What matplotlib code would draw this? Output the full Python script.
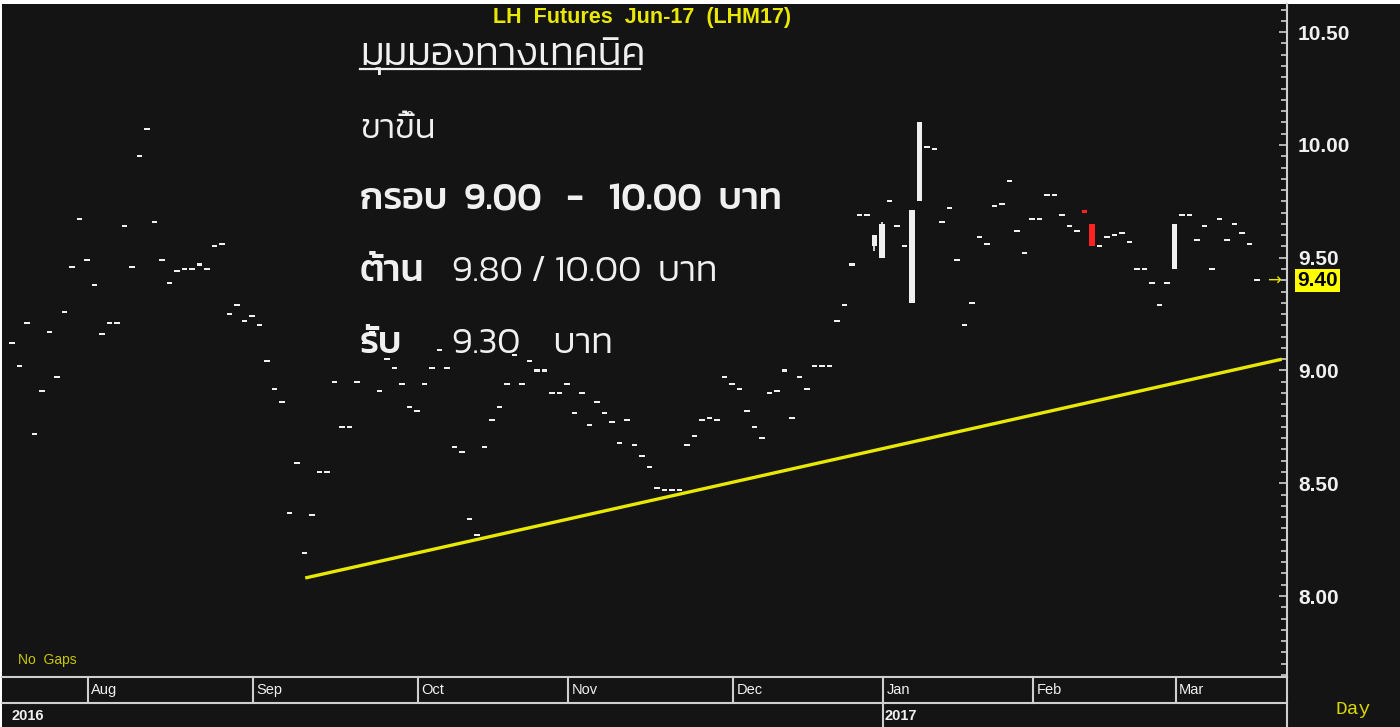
import matplotlib
matplotlib.use("Agg")
import matplotlib.pyplot as plt
import matplotlib.transforms as mtransforms
from matplotlib.lines import Line2D
from matplotlib.patches import Rectangle
from matplotlib.ticker import MultipleLocator, FormatStrFormatter
import numpy as np

# ── Data ──────────────────────────────────────────────────────────────────────
closes = [
    9.12, 9.02, 9.21, 8.72, 8.91, 9.17, 8.97, 9.26, 9.46, 9.67,
    9.49, 9.38, 9.16, 9.21, 9.21, 9.64, 9.46, 9.95, 10.07, 9.66,
    9.49, 9.39, 9.44, 9.45, 9.45, 9.47, 9.45, 9.55, 9.56, 9.25,
    9.29, 9.22, 9.24, 9.20, 9.04, 8.92, 8.86, 8.37, 8.59, 8.19,
    8.36, 8.55, 8.55, 8.95, 8.75, 8.75, 8.95, 9.12, 9.17, 8.91,
    9.05, 9.01, 8.94, 8.84, 8.82, 8.94, 9.01, 9.09, 9.01, 8.66,
    8.64, 8.34, 8.27, 8.66, 8.78, 8.84, 8.94, 9.07, 8.94, 9.04,
    9.00, 9.00, 8.90, 8.90, 8.94, 8.81, 8.90, 8.76, 8.86, 8.81,
    8.77, 8.68, 8.78, 8.67, 8.62, 8.57, 8.48, 8.47, 8.47, 8.47,
    8.67, 8.71, 8.78, 8.79, 8.78, 8.97, 8.94, 8.92, 8.82, 8.75,
    8.70, 8.90, 8.91, 9.00, 8.79, 8.97, 8.92, 9.02, 9.02, 9.02,
    9.22, 9.29, 9.47, 9.69, 9.69, 9.60, 9.65, 9.75, 9.64, 9.55,
    9.71, 10.10, 9.99, 9.98, 9.66, 9.72, 9.49, 9.20, 9.30, 9.59,
    9.56, 9.73, 9.74, 9.84, 9.62, 9.52, 9.67, 9.67, 9.78, 9.78,
    9.69, 9.64, 9.62, 9.70, 9.55, 9.55, 9.59, 9.60, 9.61, 9.57,
    9.45, 9.45, 9.39, 9.29, 9.39, 9.65, 9.69, 9.69, 9.58, 9.64,
    9.45, 9.67, 9.58, 9.65, 9.61, 9.56, 9.40,
]
# bars whose open differs from close
body_idx  = [115, 116, 120, 121, 143, 144, 155]
body_open = [9.55, 9.50, 9.30, 9.75, 9.71, 9.65, 9.45]
wick_idx  = [115, 116]
wick_low  = [9.53, 9.50]
wick_high = [9.60, 9.66]

month_names = ["Aug", "Sep", "Oct", "Nov", "Dec", "Jan", "Feb", "Mar"]
month_start = [10, 32, 54, 74, 96, 116, 136, 155]

trend_x = [39.1, 169.3]
trend_y = [8.08, 9.05]
last_price = 9.40

# ── Style ────────────────────────────────────────────────────────────────────
W, H = 1400, 727
BG = "#141414"
WHITE = "#f0f0f0"
RED = "#ff2222"
YELLOW = "#e8e800"
GRID = "#cfcfcf"
FONT_TH = ["Kanit", "Noto Sans Thai", "DejaVu Sans"]

def fx(px):
    return px / W

def fy(py):
    return 1 - py / H

fig = plt.figure(figsize=(W / 100, H / 100), dpi=100)
fig.patch.set_facecolor("white")
fig.add_artist(Rectangle((fx(2), 0), 1, fy(4), transform=fig.transFigure,
                         facecolor=BG, edgecolor="none", zorder=-5))

ax = fig.add_axes([fx(2), fy(677), fx(1287) - fx(2), fy(4) - fy(677)])
ax.set_facecolor(BG)
ax.set_xlim(-1.33, 170)
ax.set_ylim(7.641, 10.625)

# ── Candles ──────────────────────────────────────────────────────────────────
x = np.arange(len(closes))
c = np.array(closes, dtype=float)
o = c.copy()
o[body_idx] = body_open
lo = np.minimum(o, c)
hi = np.maximum(o, c)
min_h = 0.009
heights = np.maximum(hi - lo, min_h)
bottoms = np.where(hi - lo < min_h, (lo + hi) / 2 - min_h / 2, lo)
colors = np.where(c < o, RED, WHITE)
ax.vlines(wick_idx, wick_low, wick_high, color=WHITE, lw=1.2, zorder=2)
ax.bar(x, heights, bottom=bottoms, width=0.7, color=colors, linewidth=0, zorder=3)

# trend line
ax.plot(trend_x, trend_y, color=YELLOW, lw=2.4, solid_capstyle="butt", zorder=2)

# last price arrow + label
ax.text(len(closes) + 1.3, last_price, "→", color=YELLOW, fontsize=12,
        ha="center", va="center")
ax.annotate(f"{last_price:.2f}", xy=(1, last_price), xycoords=("axes fraction", "data"),
            xytext=(7.5, 0), textcoords="offset points", ha="left", va="center",
            fontsize=15, fontweight="bold", family="Liberation Sans", color="black",
            bbox=dict(boxstyle="square,pad=0.1", fc="#ffff00", ec="none"),
            annotation_clip=False)

# ── Axes styling ─────────────────────────────────────────────────────────────
for side in ["top", "left", "bottom"]:
    ax.spines[side].set_visible(False)
ax.spines["right"].set_color(GRID)
ax.spines["right"].set_linewidth(1.5)
ax.set_xticks([])
ax.yaxis.tick_right()
ax.yaxis.set_major_locator(MultipleLocator(0.5))
ax.yaxis.set_minor_locator(MultipleLocator(0.05))
ax.yaxis.set_major_formatter(FormatStrFormatter("%.2f"))
ax.tick_params(axis="y", which="major", direction="in", length=6, width=1.2,
               color=GRID, pad=8, labelsize=15, labelcolor=WHITE)
ax.tick_params(axis="y", which="minor", direction="in", length=4, width=1.2, color=GRID)
for lab in ax.get_yticklabels():
    lab.set_fontweight("bold")
    lab.set_family("Liberation Sans")

# ── Date rows below the plot ────────────────────────────────────────────────
trans_x = mtransforms.blended_transform_factory(ax.transData, fig.transFigure)
trans_ax = mtransforms.blended_transform_factory(ax.transAxes, fig.transFigure)
for yy in (677, 703):
    fig.add_artist(Line2D([0, 1], [fy(yy), fy(yy)], transform=trans_ax, color=GRID, lw=1.5))
fig.add_artist(Line2D([1, 1], [fy(677), 0], transform=trans_ax, color=GRID, lw=1.5))

for name, start in zip(month_names, month_start):
    sep = start + 0.2
    bottom = 0 if name == "Jan" else fy(703)
    fig.add_artist(Line2D([sep, sep], [fy(677), bottom], transform=trans_x, color=GRID, lw=1.5))
    ax.annotate(name, xy=(sep, fy(690)), xycoords=trans_x, xytext=(2, 0),
                textcoords="offset points", ha="left", va="center", fontsize=10.5,
                color=WHITE, family="Liberation Sans", annotation_clip=False)
    if name == "Jan":
        ax.annotate("2017", xy=(sep, fy(716)), xycoords=trans_x, xytext=(1, 0),
                    textcoords="offset points", ha="left", va="center", fontsize=10.5,
                    fontweight="bold", color=WHITE, family="Liberation Sans",
                    annotation_clip=False)
fig.text(fx(12), fy(716), "2016", ha="left", va="center", fontsize=10.5,
         fontweight="bold", color=WHITE, family="Liberation Sans")

fig.text(fx(18), fy(660), "No  Gaps", ha="left", va="center", fontsize=10,
         color="#c8c800", family="Liberation Sans")
fig.text(fx(1353), fy(709), "Day", ha="center", va="center", fontsize=14,
         color="#d8d800", family="Liberation Mono")

# ── Title and commentary text ──────────────────────────────────────────────
fig.text(fx(642), fy(18), "LH  Futures  Jun-17  (LHM17)", ha="center", va="center",
         fontsize=15.5, fontweight="bold", color=YELLOW, family="Liberation Sans")

fig.text(fx(360), fy(65), "มุมมองทางเทคนิค", ha="left", va="baseline", fontsize=28.5,
         fontweight=300, color=WHITE, family=FONT_TH)
fig.add_artist(Line2D([fx(360), fx(640)], [fy(69), fy(69)], color=WHITE, lw=1.6))
fig.text(fx(360), fy(138), "ขาขึ้น", ha="left", va="baseline", fontsize=25,
         fontweight=300, color=WHITE, family=FONT_TH)
fig.text(fx(360), fy(209), "กรอบ  9.00   -   10.00  บาท", ha="left", va="baseline",
         fontsize=27, fontweight=500, color=WHITE, family=FONT_TH)
fig.text(fx(360), fy(281), "ต้าน", ha="left", va="baseline", fontsize=27,
         fontweight=500, color=WHITE, family=FONT_TH)
fig.text(fx(452), fy(281), "9.80 / 10.00  บาท", ha="left", va="baseline", fontsize=26,
         fontweight=300, color=WHITE, family=FONT_TH)
fig.text(fx(360), fy(353), "รับ", ha="left", va="baseline", fontsize=27,
         fontweight=500, color=WHITE, family=FONT_TH)
fig.text(fx(452), fy(353), "9.30    บาท", ha="left", va="baseline", fontsize=26,
         fontweight=300, color=WHITE, family=FONT_TH)

fig.savefig("out.png", dpi=100, facecolor=fig.get_facecolor())
